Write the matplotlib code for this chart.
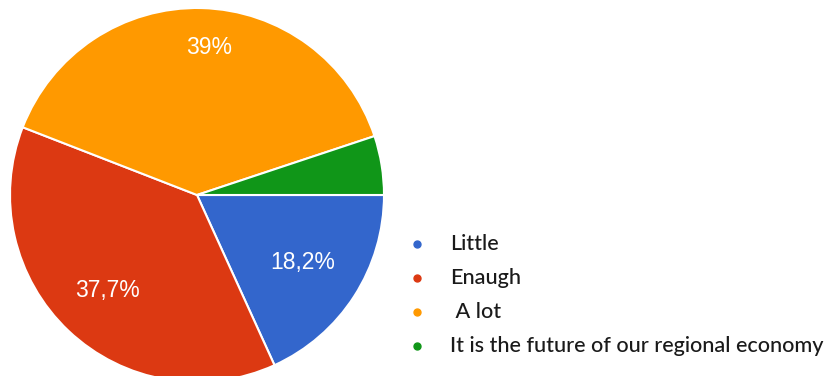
import matplotlib
matplotlib.use("Agg")
import matplotlib.pyplot as plt
import numpy as np

categories = ["Little", "Enaugh", " A lot", "It is the future of our regional economy"]
values = [18.2, 37.7, 39.0, 5.1]
colors = ["#3366CC", "#DC3912", "#FF9900", "#109618"]
shown_labels = [True, True, True, False]

W, H = 831, 376
fig = plt.figure(figsize=(W / 100, H / 100), dpi=100)
ax = fig.add_axes([0, 0, 1, 1])
ax.set_xlim(0, W)
ax.set_ylim(0, H)
ax.set_aspect("equal")
ax.axis("off")

cx, cy, r = 197, H - 195, 187
wedges, _ = ax.pie(values, colors=colors, startangle=0, counterclock=False,
                   center=(cx, cy), radius=r,
                   wedgeprops=dict(edgecolor="white", linewidth=1.5))
ax.set_xlim(0, W)
ax.set_ylim(0, H)

def fmt(v):
    s = f"{v:.1f}".rstrip("0").rstrip(".")
    return s.replace(".", ",") + "%"

label_dist = [0.67, 0.70, 0.79, 0.7]
label_shift = [0, 0, 8, 0]
for w, v, show, d, dx in zip(wedges, values, shown_labels, label_dist, label_shift):
    if not show:
        continue
    ang = np.deg2rad((w.theta1 + w.theta2) / 2)
    ax.text(cx + d * r * np.cos(ang) + dx, cy + d * r * np.sin(ang), fmt(v),
            ha="center", va="center", color="white", fontsize=16.5,
            family="Liberation Sans")

# legend
lx_dot, lx_txt, ly0, step = 417, 450, H - 244, 34
for i, (c, name) in enumerate(zip(colors, categories)):
    y = ly0 - i * step
    ax.plot([lx_dot], [y], marker="o", color=c, markersize=5, ls="")
    ax.text(lx_txt, y, name, ha="left", va="center", fontsize=15.6,
            color="#1a1a1a", family="Lato", fontweight="medium")

fig.savefig("out.png", dpi=100)
